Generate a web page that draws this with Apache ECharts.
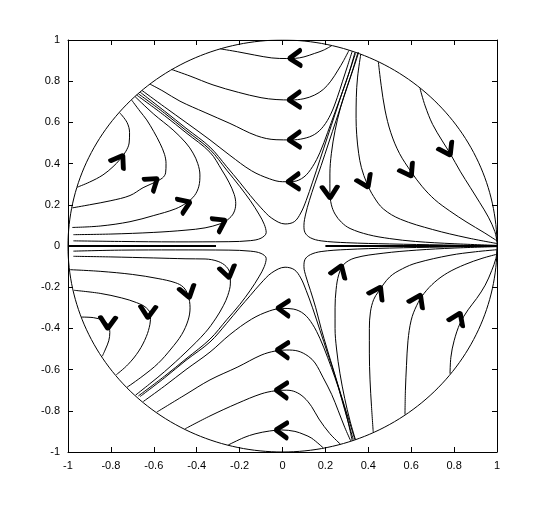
<!DOCTYPE html>
<html>
<head>
<meta charset="utf-8">
<script src="https://cdn.jsdelivr.net/npm/echarts@6/dist/echarts.min.js"></script>
<style>
html, body { margin: 0; padding: 0; background: #fff; }
#main { width: 549px; height: 508px; }
</style>
</head>
<body>
<div id="main"></div>
<script>
// upper sector, flow goes left
var u1 = [[0.229,0.972],[0.19,0.95],[0.15,0.935],[0.1,0.918],[0.06,0.911],[0.02,0.91],[-0.05,0.913],[-0.13,0.927],[-0.21,0.943],[-0.29,0.957]];
var u2 = [[0.31,0.95],[0.285,0.9],[0.259,0.854],[0.225,0.8],[0.19,0.76],[0.15,0.733],[0.1,0.715],[0.04,0.709],[-0.03,0.711],[-0.1,0.72],[-0.206,0.746],[-0.324,0.782],[-0.431,0.825],[-0.517,0.857]];
var u3 = [[0.325,0.945],[0.305,0.88],[0.28,0.8],[0.255,0.72],[0.225,0.64],[0.19,0.58],[0.15,0.542],[0.1,0.522],[0.04,0.515],[-0.03,0.516],[-0.12,0.535],[-0.245,0.595],[-0.361,0.648],[-0.478,0.703],[-0.557,0.752],[-0.618,0.786]];
var u4 = [[0.338,0.94],[0.31,0.84],[0.28,0.75],[0.245,0.65],[0.21,0.55],[0.175,0.455],[0.14,0.385],[0.1,0.335],[0.05,0.313],[0.0,0.312],[-0.06,0.326],[-0.144,0.365],[-0.245,0.44],[-0.338,0.515],[-0.45,0.6],[-0.55,0.675],[-0.655,0.755]];

// hyperbolas round the centre
var hTop = [[-0.664,0.747],[-0.55,0.655],[-0.45,0.572],[-0.338,0.48],[-0.26,0.385],[-0.2,0.31],[-0.15,0.245],[-0.1,0.185],[-0.05,0.135],[0.012,0.107],[0.055,0.118],[0.085,0.16],[0.11,0.22],[0.14,0.31],[0.175,0.42],[0.21,0.53],[0.245,0.64],[0.28,0.75],[0.31,0.84],[0.34,0.935]];
var hUl = [[-0.672,0.739],[-0.55,0.645],[-0.45,0.561],[-0.338,0.468],[-0.26,0.368],[-0.2,0.29],[-0.15,0.22],[-0.11,0.155],[-0.085,0.105],[-0.076,0.065],[-0.1,0.038],[-0.15,0.026],[-0.25,0.021],[-0.5,0.02],[-0.75,0.022],[-0.975,0.025]];
var hUr = [[0.352,0.94],[0.32,0.83],[0.285,0.72],[0.25,0.61],[0.215,0.5],[0.18,0.39],[0.15,0.3],[0.125,0.22],[0.108,0.155],[0.1,0.1],[0.105,0.065],[0.13,0.04],[0.18,0.025],[0.3,0.016],[0.5,0.01],[0.75,0.005],[1.0,0.0]];
var hBot = [[-0.664,-0.731],[-0.55,-0.64],[-0.45,-0.555],[-0.338,-0.466],[-0.26,-0.375],[-0.2,-0.3],[-0.15,-0.24],[-0.1,-0.18],[-0.05,-0.13],[0.012,-0.103],[0.055,-0.115],[0.085,-0.155],[0.11,-0.215],[0.14,-0.3],[0.175,-0.41],[0.21,-0.52],[0.245,-0.63],[0.275,-0.74],[0.305,-0.85],[0.33,-0.94]];
var hLl = [[-0.672,-0.728],[-0.55,-0.632],[-0.45,-0.548],[-0.338,-0.452],[-0.26,-0.358],[-0.2,-0.285],[-0.15,-0.215],[-0.11,-0.15],[-0.085,-0.1],[-0.076,-0.06],[-0.1,-0.036],[-0.15,-0.025],[-0.25,-0.02],[-0.5,-0.019],[-0.75,-0.02],[-0.975,-0.025]];
var hLr = [[0.338,-0.94],[0.305,-0.83],[0.272,-0.72],[0.24,-0.61],[0.208,-0.5],[0.18,-0.4],[0.155,-0.3],[0.13,-0.215],[0.11,-0.15],[0.1,-0.1],[0.105,-0.065],[0.13,-0.042],[0.18,-0.027],[0.3,-0.017],[0.5,-0.01],[0.75,-0.005],[1.0,0.0]];
var axisLeft = [[-1,0],[-0.31,0]];
var axisRight = [[0.2,0],[1,0]];

// upper right sector, flow goes down then right
var r1 = [[0.355,0.94],[0.33,0.86],[0.3,0.77],[0.27,0.67],[0.245,0.56],[0.228,0.45],[0.221,0.35],[0.221,0.26],[0.228,0.2],[0.245,0.155],[0.275,0.115],[0.315,0.085],[0.4,0.055],[0.5,0.036],[0.62,0.022],[0.8,0.011],[1.0,0.003]];
var r2 = [[0.365,0.932],[0.35,0.82],[0.344,0.72],[0.343,0.62],[0.346,0.54],[0.355,0.45],[0.368,0.38],[0.393,0.305],[0.425,0.24],[0.47,0.18],[0.55,0.13],[0.7,0.08],[0.86,0.04],[1.0,0.012]];
var r3 = [[0.447,0.893],[0.46,0.78],[0.478,0.66],[0.505,0.55],[0.545,0.45],[0.6,0.36],[0.65,0.29],[0.71,0.225],[0.78,0.17],[0.86,0.115],[0.94,0.065],[1.0,0.025]];
var r4 = [[0.641,0.765],[0.665,0.68],[0.7,0.59],[0.745,0.51],[0.781,0.45],[0.83,0.36],[0.875,0.285],[0.92,0.21],[0.96,0.14],[0.99,0.07],[1.0,0.02]];

// upper left sector, flow goes right then up
var l1 = [[-0.958,0.285],[-0.9,0.31],[-0.837,0.345],[-0.79,0.385],[-0.758,0.42],[-0.73,0.46],[-0.715,0.5],[-0.713,0.55],[-0.725,0.6],[-0.76,0.648]];
var l2 = [[-0.98,0.185],[-0.9,0.2],[-0.8,0.22],[-0.711,0.245],[-0.65,0.283],[-0.604,0.305],[-0.56,0.33],[-0.545,0.355],[-0.543,0.4],[-0.55,0.445],[-0.571,0.498],[-0.6,0.555],[-0.633,0.612],[-0.665,0.655],[-0.703,0.708]];
var l3 = [[-0.98,0.09],[-0.85,0.097],[-0.711,0.118],[-0.6,0.148],[-0.5,0.18],[-0.447,0.21],[-0.41,0.245],[-0.39,0.29],[-0.385,0.345],[-0.395,0.4],[-0.417,0.451],[-0.45,0.5],[-0.51,0.563],[-0.6,0.64],[-0.688,0.726]];
var l4 = [[-0.975,0.055],[-0.8,0.058],[-0.6,0.066],[-0.45,0.077],[-0.361,0.088],[-0.29,0.108],[-0.255,0.128],[-0.228,0.16],[-0.218,0.205],[-0.225,0.25],[-0.25,0.31],[-0.283,0.369],[-0.338,0.455],[-0.45,0.55],[-0.55,0.633],[-0.68,0.733]];

// lower sector, flow goes left
var b1 = [[-0.649,-0.755],[-0.55,-0.68],[-0.45,-0.6],[-0.338,-0.515],[-0.245,-0.43],[-0.144,-0.355],[-0.06,-0.315],[0.0,-0.303],[0.05,-0.306],[0.1,-0.33],[0.14,-0.38],[0.175,-0.45],[0.21,-0.54],[0.245,-0.64],[0.28,-0.75],[0.305,-0.85],[0.325,-0.945]];
var b2 = [[-0.587,-0.807],[-0.45,-0.72],[-0.338,-0.65],[-0.208,-0.587],[-0.1,-0.53],[-0.035,-0.51],[0.02,-0.505],[0.072,-0.51],[0.12,-0.535],[0.152,-0.568],[0.19,-0.64],[0.229,-0.72],[0.26,-0.8],[0.29,-0.88],[0.318,-0.946]];
var b3 = [[-0.455,-0.888],[-0.338,-0.825],[-0.208,-0.763],[-0.1,-0.718],[-0.035,-0.703],[0.02,-0.7],[0.06,-0.708],[0.1,-0.735],[0.136,-0.78],[0.17,-0.84],[0.22,-0.91],[0.27,-0.962]];
var b4 = [[-0.253,-0.966],[-0.18,-0.93],[-0.128,-0.912],[-0.06,-0.898],[-0.004,-0.893],[0.058,-0.9],[0.1,-0.915],[0.136,-0.933],[0.19,-0.98]];

// lower left sector, flow goes right then down
var d1 = [[-0.937,-0.345],[-0.88,-0.348],[-0.84,-0.36],[-0.815,-0.38],[-0.805,-0.42],[-0.81,-0.46],[-0.825,-0.5],[-0.84,-0.535]];
var d2 = [[-0.972,-0.215],[-0.85,-0.23],[-0.75,-0.252],[-0.68,-0.275],[-0.635,-0.3],[-0.615,-0.335],[-0.618,-0.38],[-0.635,-0.44],[-0.67,-0.51],[-0.72,-0.575],[-0.775,-0.625]];
var d3 = [[-0.99,-0.115],[-0.85,-0.123],[-0.7,-0.138],[-0.58,-0.158],[-0.5,-0.178],[-0.462,-0.2],[-0.44,-0.24],[-0.431,-0.3],[-0.44,-0.36],[-0.47,-0.43],[-0.52,-0.5],[-0.58,-0.57],[-0.65,-0.63],[-0.725,-0.686]];
var d4 = [[-0.975,-0.05],[-0.8,-0.053],[-0.6,-0.058],[-0.45,-0.062],[-0.361,-0.063],[-0.3,-0.075],[-0.262,-0.1],[-0.245,-0.135],[-0.243,-0.18],[-0.255,-0.24],[-0.276,-0.29],[-0.31,-0.35],[-0.36,-0.42],[-0.45,-0.515],[-0.55,-0.61],[-0.62,-0.67],[-0.685,-0.724]];

// lower right sector, flow goes up then right
var s1 = [[0.34,-0.94],[0.315,-0.85],[0.29,-0.74],[0.268,-0.62],[0.252,-0.5],[0.245,-0.4],[0.245,-0.3],[0.25,-0.21],[0.262,-0.14],[0.285,-0.09],[0.338,-0.058],[0.469,-0.035],[0.626,-0.02],[0.8,-0.01],[1.0,-0.003]];
var s2 = [[0.423,-0.903],[0.415,-0.78],[0.408,-0.65],[0.405,-0.52],[0.405,-0.4],[0.41,-0.32],[0.425,-0.26],[0.447,-0.222],[0.5,-0.15],[0.56,-0.11],[0.626,-0.082],[0.781,-0.045],[0.9,-0.028],[1.0,-0.018]];
var s3 = [[0.571,-0.818],[0.573,-0.7],[0.578,-0.58],[0.585,-0.46],[0.6,-0.36],[0.625,-0.29],[0.66,-0.23],[0.71,-0.175],[0.77,-0.13],[0.85,-0.09],[0.93,-0.06],[1.0,-0.04]];
var s4 = [[0.781,-0.62],[0.785,-0.54],[0.8,-0.46],[0.828,-0.375],[0.865,-0.31],[0.905,-0.255],[0.945,-0.19],[0.975,-0.12],[0.995,-0.06],[1.0,-0.02]];

// arrow heads: x, y, flow direction in degrees
var arrows = [
    [0.058,0.912,182],[0.055,0.71,182],[0.055,0.516,182],[0.05,0.313,182],
    [0.003,-0.302,178],[0.0,-0.505,178],[-0.005,-0.7,178],[-0.005,-0.894,178],
    [0.221,0.26,272],[0.388,0.31,295],[0.588,0.362,300],[0.77,0.465,298],
    [0.266,-0.12,70],[0.445,-0.223,62],[0.632,-0.262,64],[0.818,-0.35,66],
    [-0.758,0.417,58],[-0.604,0.311,38],[-0.455,0.203,22],[-0.29,0.113,28],
    [-0.814,-0.374,268],[-0.627,-0.322,268],[-0.441,-0.225,285],[-0.254,-0.128,282]
];

var streamLines = [u1,u2,u3,u4,hTop,hUl,hUr,hBot,hLl,hLr,r1,r2,r3,r4,l1,l2,l3,l4,b1,b2,b3,b4,d1,d2,d3,d4,s1,s2,s3,s4];

// unit circle boundary
var circleSteps = 240;
var circle = [];
for (var i = 0; i <= circleSteps; i++) {
    var t = i / circleSteps * 2 * Math.PI;
    circle.push([Math.cos(t), Math.sin(t)]);
}

var font = 'Liberation Sans, Arial, Helvetica, sans-serif';

function axis(pos, show) {
    return {
        type: 'value',
        position: pos,
        min: -1,
        max: 1,
        interval: 0.2,
        axisLine: { show: true, onZero: false, lineStyle: { color: '#000', width: 1 } },
        axisTick: { show: true, inside: true, length: 5, lineStyle: { color: '#000' } },
        axisLabel: { show: show, color: '#000', fontSize: 11, fontFamily: font, margin: 8 },
        splitLine: { show: false }
    };
}

var series = [];
streamLines.forEach(function (pts) {
    series.push({
        type: 'line',
        data: pts,
        smooth: 0.35,
        showSymbol: false,
        silent: true,
        lineStyle: { color: '#000', width: 1 }
    });
});
series.push({
    type: 'line', data: circle, showSymbol: false, silent: true,
    lineStyle: { color: '#000', width: 1 }
});
[axisLeft, axisRight].forEach(function (pts) {
    series.push({
        type: 'line', data: pts, showSymbol: false, silent: true,
        lineStyle: { color: '#000', width: 2 }
    });
});
series.push({
    type: 'scatter',
    data: arrows,
    symbol: 'path://M0,10 L7,0 L14,10',
    symbolSize: [15, 11],
    symbolRotate: function (v) { return v[2] - 90; },
    silent: true,
    z: 5,
    itemStyle: { color: 'transparent', opacity: 1, borderColor: '#000', borderWidth: 4.5, borderCap: 'round', borderJoin: 'round' }
});

var chart = echarts.init(document.getElementById('main'));
chart.setOption({
    animation: false,
    backgroundColor: '#fff',
    grid: { left: 68, right: 52, top: 40, bottom: 56 },
    xAxis: [axis('bottom', true), axis('top', false)],
    yAxis: [axis('left', true), axis('right', false)],
    series: series
});
</script>
</body>
</html>
